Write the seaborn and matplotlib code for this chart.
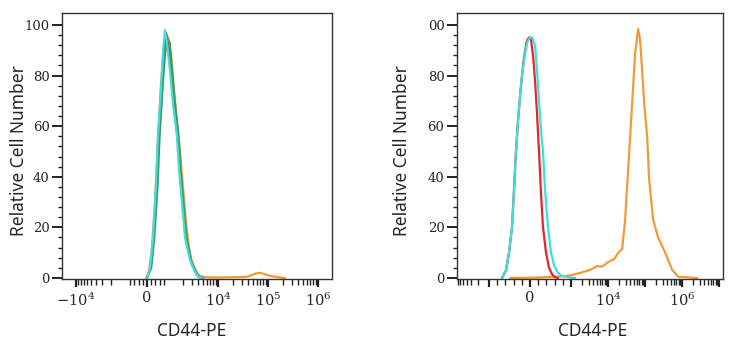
"""
CD44-PE flow cytometry histograms, two panels (logicle-like x axis).
"""
import numpy as np
import pandas as pd
import matplotlib
matplotlib.use("Agg")
import matplotlib.pyplot as plt
import seaborn as sns
from matplotlib.ticker import FixedLocator, NullFormatter

# ---- data (intensity, relative count) ----
# left panel
left_cyan_x = [0, 143, 286, 428, 524, 666, 762, 857, 952, 1096, 1259, 1514, 1660, 1905, 2188, 2754, 3467, 3981, 4786]
left_cyan_y = [0, 4, 16, 36, 56, 75, 89, 98, 93, 82, 69, 56, 43, 30, 16, 7, 2.4, 0.5, 0]

left_red_x = [0, 190, 330, 470, 570, 710, 810, 900, 1000, 1130, 1300, 1560, 1720, 1960, 2250, 2830, 3550, 4100, 4900]
left_red_y = [0, 5, 18, 38, 58, 77, 90, 97, 93, 82, 69, 55, 42, 29, 16, 7, 2.2, 0.4, 0]

left_green_x = [0, 200, 350, 500, 600, 740, 850, 960, 1080, 1200, 1360, 1620, 1780, 2030, 2330, 2900, 3650, 4200, 5000]
left_green_y = [0, 4, 16, 36, 56, 75, 88, 94, 93, 83, 70, 56, 43, 30, 16, 7, 2.2, 0.4, 0]

left_orange_x = [-50, 95, 238, 381, 524, 666, 809, 952, 1047, 1148, 1318, 1514, 1738, 1995, 2291, 2630, 3020,
                 3802, 4365, 5495, 8710, 17380, 34670, 39800, 47900, 57500, 69200, 83200, 109600, 158500, 218800]
left_orange_y = [0, 2, 12, 30, 55, 76, 92, 96, 94, 88, 74, 62, 50, 36, 22, 12, 6,
                 2, 0.8, 0.3, 0.2, 0.3, 0.4, 0.6, 1.2, 1.8, 2.0, 1.6, 0.8, 0.3, 0]

# right panel
right_red_x = [-681, -584, -511, -438, -389, -341, -292, -243, -195, -146, -97, -73, -24, 0, 24, 73, 122, 170,
               219, 268, 316, 389, 462, 535, 608, 681]
right_red_y = [0, 3, 10, 20, 35, 50, 62, 72, 80, 87, 92, 94, 95, 95, 94, 88, 78, 65,
               50, 33, 20, 10, 4, 1.5, 0.3, 0]

right_cyan_x = [-681, -584, -511, -438, -389, -341, -292, -243, -195, -146, -97, -49, 0, 49, 122, 170, 219,
                268, 316, 365, 438, 511, 584, 681, 779, 973, 1283]
right_cyan_y = [0, 3, 10, 20, 35, 50, 62, 72, 80, 86, 91, 94, 95, 95, 92, 82, 70,
                58, 50, 35, 20, 10, 5, 2, 0.8, 0.2, 0]

right_orange_x = [-487, 243, 730, 973, 1750, 3266, 5045, 6887, 10000, 14520, 18640, 23890, 28790, 34740, 44550,
                  53700, 64710, 73280, 82990, 93970, 113300, 128300, 164500, 224500, 347400, 537000, 779800,
                  1644000, 2543000]
right_orange_y = [0, 0.2, 0.6, 1.0, 2.0, 3.2, 4.7, 4.5, 6.3, 7.5, 9.9, 11.5, 23, 43, 69,
                  89, 98.4, 94, 82, 69, 56, 39, 23, 16, 10, 3.2, 0.5,
                  0.2, 0]

left_xticks = [-1e4, 0, 1e4, 1e5, 1e6]
left_xticklabels = [r"$-10^4$", "0", r"$10^4$", r"$10^5$", r"$10^6$"]
right_xticks = [-1e3, 0, 1e3, 1e4, 1e5, 1e6, 1e7]
right_xticklabels = ["", "0", "", r"$10^4$", "", r"$10^6$", ""]
yticks = [0, 20, 40, 60, 80, 100]
left_yticklabels = ["0", "20", "40", "60", "80", "100"]
right_yticklabels = ["0", "20", "40", "60", "80", "00"]

RED = "#e2262c"
CYAN = "#3cdede"
GREEN = "#3f9a63"
ORANGE = "#f29a35"

sns.set_style("ticks")
plt.rcParams["mathtext.fontset"] = "dejavuserif"

fig = plt.figure(figsize=(7.37, 3.5), dpi=100)
ax_l = fig.add_axes([62 / 737, 71 / 350, 270 / 737, 266 / 350])
ax_r = fig.add_axes([457 / 737, 71 / 350, 266 / 737, 266 / 350])


def draw(ax, x, y, color, lw=1.6):
    df = pd.DataFrame({"x": x, "y": y})
    sns.lineplot(data=df, x="x", y="y", ax=ax, color=color, lw=lw, sort=False, estimator=None)


draw(ax_l, left_orange_x, left_orange_y, ORANGE)
draw(ax_l, left_red_x, left_red_y, RED)
draw(ax_l, left_green_x, left_green_y, GREEN)
draw(ax_l, left_cyan_x, left_cyan_y, CYAN)

draw(ax_r, right_orange_x, right_orange_y, ORANGE)
draw(ax_r, right_red_x, right_red_y, RED)
draw(ax_r, right_cyan_x, right_cyan_y, CYAN)

ax_l.set_xscale("symlog", linthresh=1000, linscale=0.378)
ax_l.set_xlim(-1.9e4, 1.9e6)
ax_r.set_xscale("symlog", linthresh=1000, linscale=1.0)
ax_r.set_xlim(-7280, 1.27e7)

# minor ticks: 2..9 per decade plus a dense run through the linear zone
log_minor = [s * 10.0 ** k for k in range(3, 7) for s in range(2, 10)]
lin_minor = list(range(-800, 1000, 200))
minor_x = sorted(set(log_minor + [-v for v in log_minor] + lin_minor))

# (y-label right edge px, x-label centre px)
label_pos = {ax_l: (28, 192), ax_r: (411, 593)}

for ax, xt, xl, yl in [(ax_l, left_xticks, left_xticklabels, left_yticklabels),
                       (ax_r, right_xticks, right_xticklabels, right_yticklabels)]:
    ax.set_ylim(-0.4, 104.7)
    ax.set_xticks(xt)
    ax.set_xticklabels(xl)
    ax.xaxis.set_minor_locator(FixedLocator(minor_x))
    ax.xaxis.set_minor_formatter(NullFormatter())
    ax.set_yticks(yticks)
    ax.set_yticklabels(yl)
    ax.yaxis.set_minor_locator(FixedLocator(np.arange(0, 104, 4)))
    for s in ax.spines.values():
        s.set_visible(True)
        s.set_linewidth(1.0)
        s.set_color("#333333")
    ax.tick_params(axis="y", which="major", length=7, width=1.4, color="#222222", pad=2,
                   labelsize=9.5, labelfontfamily="DejaVu Serif")
    ax.tick_params(axis="y", which="minor", length=3, width=1.0, color="#222222")
    ax.tick_params(axis="x", which="major", length=6, width=1.6, color="#222222", pad=3,
                   labelsize=10.5, labelfontfamily="DejaVu Serif")
    ax.tick_params(axis="x", which="minor", length=4, width=1.0, color="#222222")
    ax.set_xlabel("CD44-PE", fontsize=12.5, family="Noto Sans")
    ax.set_ylabel("Relative Cell Number", fontsize=12.5, family="Noto Sans")
    yl_px, xl_px = label_pos[ax]
    bbox = ax.get_position()
    ax.yaxis.set_label_coords((yl_px / 737 - bbox.x0) / bbox.width, 0.481)
    ax.xaxis.set_label_coords((xl_px / 737 - bbox.x0) / bbox.width, -43 / 266)

fig.savefig("out.png", dpi=100, facecolor="white")
